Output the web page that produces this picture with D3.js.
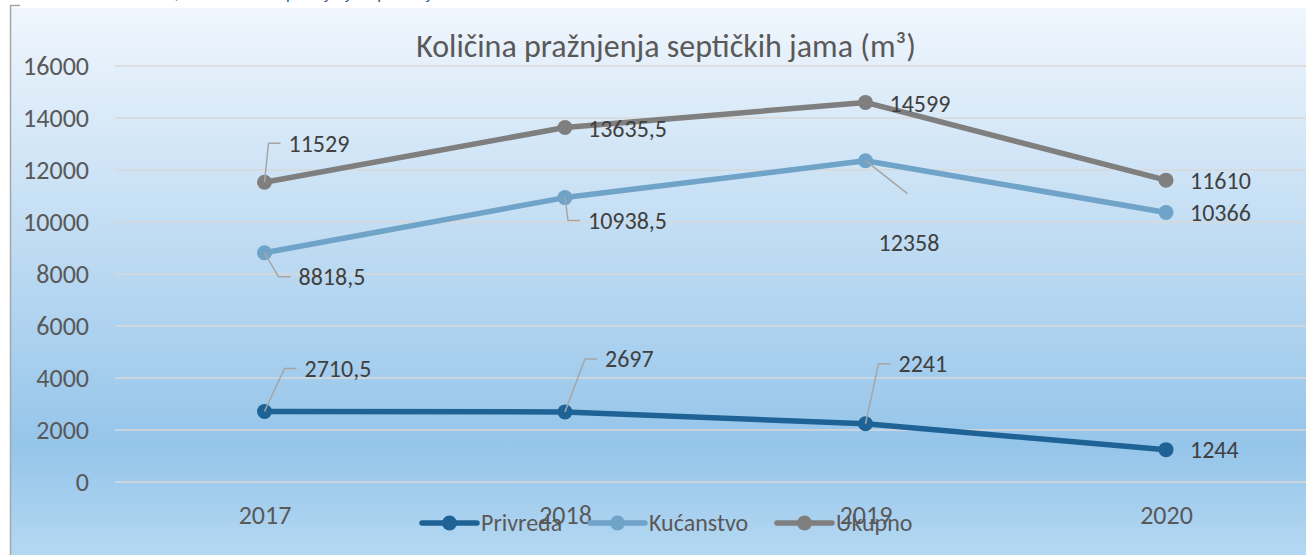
<!DOCTYPE html>
<html>
<head>
<meta charset="utf-8">
<script src="https://cdn.jsdelivr.net/npm/d3@7"></script>
<style>
  body { margin: 0; background: #fff; }
  svg { display: block; font-family: Calibri, Carlito, "Open Sans", sans-serif; }
</style>
</head>
<body>
<div id="chart"></div>
<script>
// data
var years = ["2017", "2018", "2019", "2020"];
var privreda = [2710.5, 2697, 2241, 1244];
var kucanstvo = [8818.5, 10938.5, 12358, 10366];
var ukupno = [11529, 13635.5, 14599, 11610];
var yTicks = [0, 2000, 4000, 6000, 8000, 10000, 12000, 14000, 16000];

var seriesNames = ["Privreda", "Kućanstvo", "Ukupno"];
var seriesColors = ["#1f6396", "#6fa3c7", "#7f7f7f"];

// label placement (dx, dy of label start from the point; leader: 0 none, 1 elbow, 2 straight)
var labelPos = [
  [[40, -43, 1], [40, -53, 1], [33, -60, 1], [24, 0, 0]],
  [[34, 24, 1], [23, 23, 1], [13, 82, 2], [24, 0, 0]],
  [[24, -39, 1], [23, 1, 0], [24, 1, 0], [24, 0, 0]]
];

var width = 1306, height = 555;
var svg = d3.select("#chart").append("svg")
    .attr("width", width)
    .attr("height", height);

var defs = svg.append("defs");
var grad = defs.append("linearGradient")
    .attr("id", "bg")
    .attr("x1", 0).attr("y1", 0).attr("x2", 0).attr("y2", 1);
grad.append("stop").attr("offset", "0%").attr("stop-color", "#f0f6fd");
grad.append("stop").attr("offset", "80%").attr("stop-color", "#95c5ea");
grad.append("stop").attr("offset", "100%").attr("stop-color", "#b4d8f2");

// caption cut off at the top
svg.append("text")
    .attr("x", 150)
    .attr("y", -1)
    .attr("font-style", "italic")
    .attr("font-size", 17)
    .attr("fill", "#1f4e79")
    .text("Grafikon 2. Količina pražnjenja septičkih jama");

svg.append("rect")
    .attr("x", 11).attr("y", 8)
    .attr("width", width - 11).attr("height", height - 8)
    .attr("fill", "url(#bg)");

// frame corner
svg.append("path")
    .attr("d", "M20,5.5H10.5V555")
    .attr("fill", "none")
    .attr("stroke", "#a6a6a6")
    .attr("stroke-width", 1.5);

var x = d3.scalePoint()
    .domain(years)
    .range([264.5, 1166])
    .padding(0);

var y = d3.scaleLinear()
    .domain([0, 16000])
    .range([482, 66]);

// gridlines
svg.append("g")
    .selectAll("line")
    .data(yTicks)
    .join("line")
    .attr("x1", 115).attr("x2", width)
    .attr("y1", function(d) { return y(d); })
    .attr("y2", function(d) { return y(d); })
    .attr("stroke", "#d9d9d9")
    .attr("stroke-width", 1.5);

// y axis labels
var yAxis = d3.axisLeft(y).tickValues(yTicks).tickSize(0).tickPadding(0)
    .tickFormat(function(d) { return d; });
var gy = svg.append("g")
    .attr("transform", "translate(89,0)")
    .call(yAxis);
gy.select(".domain").remove();
gy.selectAll("text")
    .attr("font-size", 26)
    .attr("fill", "#595959")
    .attr("font-family", "Calibri, Carlito, 'Open Sans', sans-serif");

// x axis labels
var xAxis = d3.axisBottom(x).tickSize(0).tickPadding(0);
var gx = svg.append("g")
    .attr("transform", "translate(0,506)")
    .call(xAxis);
gx.select(".domain").remove();
gx.selectAll("text")
    .attr("font-size", 26)
    .attr("fill", "#595959")
    .attr("font-family", "Calibri, Carlito, 'Open Sans', sans-serif");

// title
svg.append("text")
    .attr("x", 666)
    .attr("y", 57)
    .attr("text-anchor", "middle")
    .attr("font-size", 32)
    .attr("fill", "#595959")
    .text("Količina pražnjenja septičkih jama (m³)");

var line = d3.line()
    .x(function(d, i) { return x(years[i]); })
    .y(function(d) { return y(d); });

var allSeries = [privreda, kucanstvo, ukupno];
var fmt = function(v) { return String(v).replace(".", ","); };

allSeries.forEach(function(vals, s) {
  var g = svg.append("g");
  g.append("path")
      .datum(vals)
      .attr("d", line)
      .attr("fill", "none")
      .attr("stroke", seriesColors[s])
      .attr("stroke-width", 5.5)
      .attr("stroke-linejoin", "round");
  g.selectAll("circle")
      .data(vals)
      .join("circle")
      .attr("cx", function(d, i) { return x(years[i]); })
      .attr("cy", function(d) { return y(d); })
      .attr("r", 7.5)
      .attr("fill", seriesColors[s]);
});

// data labels with leader lines
allSeries.forEach(function(vals, s) {
  vals.forEach(function(v, i) {
    var px = x(years[i]), py = y(v);
    var p = labelPos[s][i];
    var lx = px + p[0], ly = py + p[1];
    if (p[2] === 1) {
      svg.append("path")
          .attr("d", "M" + px + "," + py + "L" + (lx - 20) + "," + ly + "H" + (lx - 8))
          .attr("fill", "none")
          .attr("stroke", "#a6a6a6")
          .attr("stroke-width", 1.5);
    } else if (p[2] === 2) {
      svg.append("path")
          .attr("d", "M" + px + "," + py + "L" + (lx + 29) + "," + (ly - 49))
          .attr("fill", "none")
          .attr("stroke", "#a6a6a6")
          .attr("stroke-width", 1.5);
    }
    svg.append("text")
        .attr("x", lx)
        .attr("y", ly)
        .attr("dy", "0.35em")
        .attr("font-size", 24)
        .attr("fill", "#404040")
        .text(fmt(v));
  });
});

// legend
var legendX = [422, 590, 777];
var lg = svg.append("g").attr("transform", "translate(0,523)");
seriesNames.forEach(function(name, s) {
  var g = lg.append("g").attr("transform", "translate(" + legendX[s] + ",0)");
  g.append("line")
      .attr("x1", 0).attr("x2", 55)
      .attr("stroke", seriesColors[s])
      .attr("stroke-width", 5.5)
      .attr("stroke-linecap", "round");
  g.append("circle")
      .attr("cx", 27.5).attr("r", 7.5)
      .attr("fill", seriesColors[s]);
  g.append("text")
      .attr("x", 59)
      .attr("dy", "0.35em")
      .attr("font-size", 24)
      .attr("fill", "#595959")
      .text(name);
});
</script>
</body>
</html>
